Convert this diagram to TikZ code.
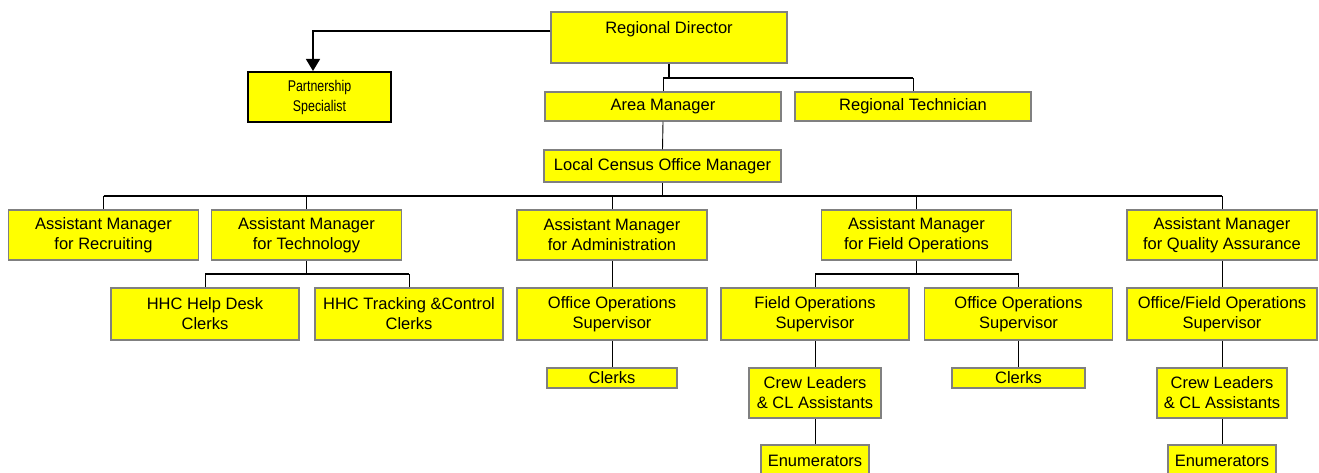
\documentclass[tikz,border=0pt]{standalone}
\usepackage{fontspec}
\setmainfont{Liberation Sans}
\newfontfamily\narrowfont[FakeStretch=0.8]{Liberation Sans}
\usetikzlibrary{arrows.meta}

\definecolor{boxyellow}{RGB}{255,255,0}
\definecolor{boxgray}{RGB}{128,128,128}

\begin{document}
\begin{tikzpicture}[x=1pt, y=-1pt,
  box/.style={draw=boxgray, line width=1.5pt, fill=boxyellow, align=center,
    inner sep=0pt, font=\fontsize{16.5}{20}\selectfont},
  wide/.style={box, minimum width=236pt},
  mgr/.style={box, minimum width=190pt, minimum height=50pt},
  sup/.style={box, minimum width=188pt, minimum height=52pt},
  crew/.style={box, minimum width=131pt, minimum height=50pt},
  clerk/.style={box, minimum width=131pt, minimum height=20pt},
  enum/.style={box, minimum width=108pt, minimum height=32pt},
  trunk/.style={line width=1.6pt},
  stub/.style={line width=0.9pt}]
  \useasboundingbox (0,0) rectangle (1319,473);

  % bus heights (only y is used)
  \coordinate (lvl0) at (0,78);
  \coordinate (lvl1) at (0,196);
  \coordinate (lvl2) at (0,274);

  % regional level
  \node[wide, minimum height=51pt] (RD) at (669,37.5) {Regional Director\\ ~};
  \node[box, draw=black, line width=2pt, minimum width=143pt, minimum height=50pt,
    font=\narrowfont\fontsize{15.5}{20}\selectfont] (PS) at (319.5,97) {Partnership\\Specialist};
  \node[wide, minimum height=29pt] (AM) at (663,106.5) {Area Manager};
  \node[wide, minimum height=29pt] (RT) at (913,106.5) {Regional Technician};
  \node[wide, minimum width=237pt, minimum height=32pt] (LCOM) at (662.5,166) {Local Census Office Manager};

  % assistant managers
  \node[mgr] (AMR) at (103.5,235) {Assistant Manager\\for Recruiting};
  \node[mgr] (AMT) at (306.5,235) {Assistant Manager\\for Technology};
  \node[mgr] (AMA) at (612,235) {Assistant Manager\\for Administration};
  \node[mgr] (AMF) at (916.5,235) {Assistant Manager\\for Field Operations};
  \node[mgr] (AMQ) at (1222,235) {Assistant Manager\\for Quality Assurance};

  % supervisors and clerks
  \node[sup] (HD) at (205,314) {HHC Help Desk\\Clerks};
  \node[sup] (TC) at (409,314) {HHC Tracking \&Control\\Clerks};
  \node[sup, minimum width=190pt] (OOA) at (612,314) {Office Operations\\Supervisor};
  \node[sup] (FOS) at (815,314) {Field Operations\\Supervisor};
  \node[sup] (OOF) at (1018.5,314) {Office Operations\\Supervisor};
  \node[sup, minimum width=190pt] (OFQ) at (1222,314) {Office/Field Operations\\Supervisor};

  \node[clerk, minimum width=130pt] (CKA) at (612,378) {Clerks};
  \node[clerk, minimum width=133pt] (CKF) at (1018.5,378) {Clerks};
  \node[crew, minimum width=132pt] (CLF) at (815,393) {Crew Leaders\\\& CL Assistants};
  \node[crew, minimum width=130pt] (CLQ) at (1222,393) {Crew Leaders\\\& CL Assistants};
  \node[enum] (ENF) at (815,461) {Enumerators};
  \node[enum] (ENQ) at (1222,461) {Enumerators};

  % director to partnership specialist
  \draw[line width=1.5pt, -{Triangle[width=14pt,length=12pt]}]
    ([yshift=6.5pt]RD.west) -| ([xshift=-6.5pt]PS.north);

  % director to area manager / technician
  \draw[trunk] (RD.south) -- (RD.south |- lvl0);
  \draw[trunk] (AM.north |- lvl0) -- (RT.north |- lvl0);
  \draw[stub] (AM.north |- lvl0) -- (AM.north);
  \draw[stub] (RT.north |- lvl0) -- (RT.north);
  \draw[stub] (AM.south) -- (LCOM.north);

  % office manager to assistant managers
  \draw[trunk] (LCOM.south) -- (LCOM.south |- lvl1);
  \draw[trunk] (AMR.north |- lvl1) -- (AMQ.north |- lvl1);
  \draw[stub] (AMR.north |- lvl1) -- (AMR.north);
  \draw[stub] (AMT.north |- lvl1) -- (AMT.north);
  \draw[stub] (AMA.north |- lvl1) -- (AMA.north);
  \draw[stub] (AMF.north |- lvl1) -- (AMF.north);
  \draw[stub] (AMQ.north |- lvl1) -- (AMQ.north);

  % technology branch
  \draw[trunk] (AMT.south) -- (AMT.south |- lvl2);
  \draw[trunk] (HD.north |- lvl2) -- (TC.north |- lvl2);
  \draw[stub] (HD.north |- lvl2) -- (HD.north);
  \draw[stub] (TC.north |- lvl2) -- (TC.north);

  % administration branch
  \draw[stub] (AMA.south) -- (OOA.north);
  \draw[stub] (OOA.south) -- (CKA.north);

  % field operations branch
  \draw[trunk] (AMF.south) -- (AMF.south |- lvl2);
  \draw[trunk] (FOS.north |- lvl2) -- (OOF.north |- lvl2);
  \draw[stub] (FOS.north |- lvl2) -- (FOS.north);
  \draw[stub] (OOF.north |- lvl2) -- (OOF.north);
  \draw[stub] (FOS.south) -- (CLF.north);
  \draw[stub] (CLF.south) -- (ENF.north);
  \draw[stub] (OOF.south) -- (CKF.north);

  % quality assurance branch
  \draw[stub] (AMQ.south) -- (OFQ.north);
  \draw[stub] (OFQ.south) -- (CLQ.north);
  \draw[stub] (CLQ.south) -- (ENQ.north);
\end{tikzpicture}
\end{document}
